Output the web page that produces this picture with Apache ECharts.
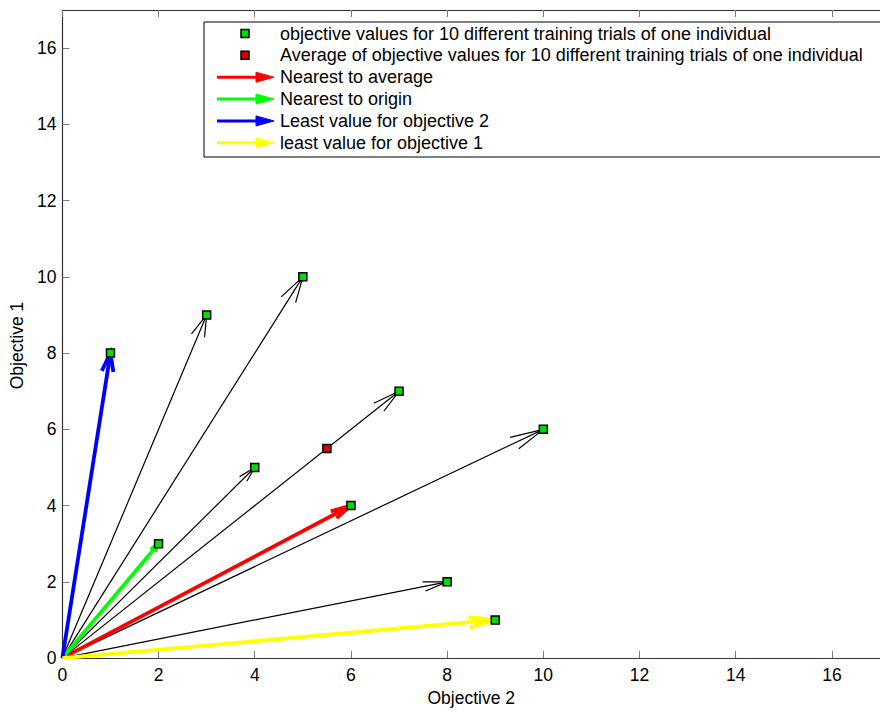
<!DOCTYPE html>
<html>
<head>
<meta charset="utf-8">
<script src="https://cdn.jsdelivr.net/npm/echarts@6/dist/echarts.min.js"></script>
<style>
  html, body { margin: 0; padding: 0; background: #fff; }
  #chart { width: 880px; height: 712px; }
</style>
</head>
<body>
<div id="chart"></div>
<script>
// ---- data (x = Objective 2, y = Objective 1) ----
const objective2 = [1, 3, 5, 2, 4, 7, 10, 6, 8, 9];
const objective1 = [8, 9, 10, 3, 5, 7, 6, 4, 2, 1];
const averagePoint = [5.5, 5.5];
const nearestToAverage = [6, 4];
const nearestToOrigin = [2, 3];
const leastObjective2 = [1, 8];
const leastObjective1 = [9, 1];
const xTicks = [0, 2, 4, 6, 8, 10, 12, 14, 16];
const yTicks = [0, 2, 4, 6, 8, 10, 12, 14, 16];
const legendLabels = [
  'objective values for 10 different training trials of one individual',
  'Average of objective values for 10 different training trials of one individual',
  'Nearest to average',
  'Nearest to origin',
  'Least value for objective 2',
  'least value for objective 1'
];

const FONT = '"Liberation Sans", Arial, Helvetica, sans-serif';
const GREEN_MARK = '#00dd00';
const RED_MARK = '#dd0000';

const points = objective2.map((x, i) => [x, objective1[i]]);
const coloredTargets = [nearestToAverage, nearestToOrigin, leastObjective2, leastObjective1];
const blackArrows = points.filter(p => !coloredTargets.some(c => c[0] === p[0] && c[1] === p[1]));

function arrowRenderer(color, width) {
  return function (params, api) {
    const u = api.value(0), v = api.value(1);
    const a = 0.06, b = 0.25;
    const o = api.coord([0, 0]);
    const t = api.coord([u, v]);
    const h1 = api.coord([u - a * (u + b * v), v - a * (v - b * u)]);
    const h2 = api.coord([u - a * (u - b * v), v - a * (v + b * u)]);
    return {
      type: 'group',
      children: [
        { type: 'line', shape: { x1: o[0], y1: o[1], x2: t[0], y2: t[1] },
          style: { stroke: color, lineWidth: width, lineCap: 'butt' } },
        { type: 'polyline', shape: { points: [h1, t, h2] },
          style: { stroke: color, lineWidth: width, fill: null, lineJoin: 'miter' } }
      ]
    };
  };
}

function arrowSeries(name, data, color, width, z) {
  return {
    type: 'custom', name: name, coordinateSystem: 'cartesian2d',
    xAxisIndex: 0, yAxisIndex: 0,
    data: data, encode: { x: 0, y: 1 },
    renderItem: arrowRenderer(color, width),
    clip: false, silent: true, z: z
  };
}

// ---- legend drawn as graphic ----
const legendLeft = 204, legendTop = 22, rowH = 21.85, firstRow = 33.5;
const textX = 280;
const legendElements = [
  { type: 'rect', shape: { x: legendLeft, y: legendTop, width: 720, height: 135 },
    style: { fill: '#fff', stroke: '#000', lineWidth: 1 }, z: 100 }
];
const legendColors = [null, null, '#ff0000', '#00ff00', '#0000ff', '#ffff00'];
legendLabels.forEach((label, i) => {
  const cy = firstRow + rowH * i;
  if (i < 2) {
    legendElements.push({ type: 'rect', shape: { x: 241, y: cy - 4, width: 8, height: 8 },
      style: { fill: i === 0 ? GREEN_MARK : RED_MARK, stroke: '#000', lineWidth: 1.5 }, z: 101 });
  } else {
    const c = legendColors[i];
    legendElements.push({ type: 'line', shape: { x1: 217, y1: cy, x2: 260, y2: cy },
      style: { stroke: c, lineWidth: 3 }, z: 101 });
    legendElements.push({ type: 'polygon', shape: { points: [[256, cy - 5], [274, cy], [256, cy + 5]] },
      style: { fill: c, stroke: c, lineWidth: 1 }, z: 101 });
  }
  legendElements.push({ type: 'text', x: textX, y: cy,
    style: { text: label, fill: '#000', font: '18px ' + FONT, textVerticalAlign: 'middle', textAlign: 'left' },
    z: 101 });
});

const axisLineStyle = { color: '#333', width: 1.2 };
const tickStyle = { color: '#777', width: 1 };

const chart = echarts.init(document.getElementById('chart'), null, { renderer: 'svg' });
chart.setOption({
  animation: false,
  backgroundColor: '#fff',
  grid: { left: 62, top: 10, width: 828, height: 654, containLabel: false },
  xAxis: [
    {
      type: 'value', position: 'bottom', min: 0, max: 17, interval: 2,
      name: 'Objective 2', nameLocation: 'middle', nameGap: 28,
      nameTextStyle: { fontFamily: FONT, fontSize: 17.5, color: '#000' },
      axisLine: { show: true, lineStyle: axisLineStyle },
      axisTick: { show: true, inside: true, length: 7, lineStyle: tickStyle },
      axisLabel: { fontFamily: FONT, fontSize: 17.5, color: '#000', margin: 8,
        showMaxLabel: false,
        formatter: v => xTicks.includes(v) ? String(v) : '' },
      splitLine: { show: false }
    },
    {
      type: 'value', position: 'top', min: 0, max: 17, interval: 2,
      axisLine: { show: true, lineStyle: axisLineStyle },
      axisTick: { show: true, inside: true, length: 7, lineStyle: tickStyle },
      axisLabel: { show: false },
      splitLine: { show: false }
    }
  ],
  yAxis: [
    {
      type: 'value', position: 'left', min: 0, max: 17, interval: 2,
      name: 'Objective 1', nameLocation: 'middle', nameGap: 36,
      nameTextStyle: { fontFamily: FONT, fontSize: 17.5, color: '#000', padding: [0, 23, 0, 0] },
      axisLine: { show: true, lineStyle: axisLineStyle },
      axisTick: { show: true, inside: true, length: 7, lineStyle: tickStyle },
      axisLabel: { fontFamily: FONT, fontSize: 17.5, color: '#000', margin: 6,
        showMaxLabel: false,
        formatter: v => yTicks.includes(v) ? String(v) : '' },
      splitLine: { show: false }
    }
  ],
  series: [
    arrowSeries('arrows', blackArrows, '#000', 1.2, 2),
    arrowSeries('Nearest to average', [nearestToAverage], '#ff0000', 3.8, 3),
    arrowSeries('Nearest to origin', [nearestToOrigin], '#00ff00', 3.8, 3),
    arrowSeries('Least value for objective 2', [leastObjective2], '#0000ff', 3.8, 3),
    arrowSeries('least value for objective 1', [leastObjective1], '#ffff00', 3.8, 3),
    {
      type: 'scatter', name: legendLabels[0], data: points,
      symbol: 'rect', symbolSize: 8,
      itemStyle: { color: GREEN_MARK, borderColor: '#000', borderWidth: 1.5, opacity: 1 },
      z: 5, silent: true
    },
    {
      type: 'scatter', name: legendLabels[1], data: [averagePoint],
      symbol: 'rect', symbolSize: 8,
      itemStyle: { color: RED_MARK, borderColor: '#000', borderWidth: 1.5, opacity: 1 },
      z: 5, silent: true
    }
  ],
  graphic: legendElements
});
</script>
</body>
</html>
